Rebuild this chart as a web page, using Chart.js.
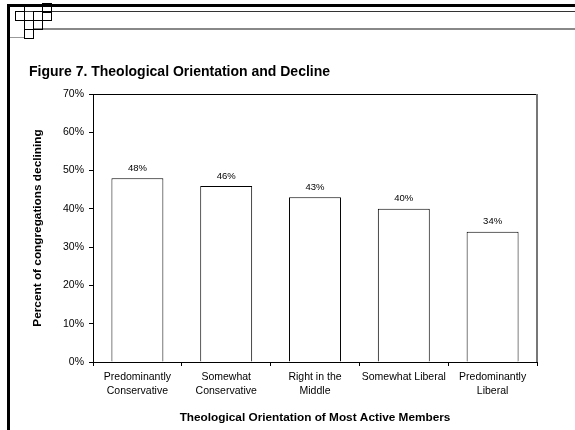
<!DOCTYPE html>
<html>
<head>
<meta charset="utf-8">
<script src="https://cdn.jsdelivr.net/npm/chart.js"></script>
<style>
  body { margin: 0; background: #fff; }
  .chart-wrap { position: relative; width: 575px; height: 430px; }
</style>
</head>
<body>
<div class="chart-wrap"><canvas id="declineChart"></canvas></div>
<script>
// Chart data
const categories = [
  ["Predominantly", "Conservative"],
  ["Somewhat", "Conservative"],
  ["Right in the", "Middle"],
  "Somewhat Liberal",
  ["Predominantly", "Liberal"],
];
const declining = [48, 46, 43, 40, 34]; // percent of congregations declining
const yMax = 70;
const yStep = 10;

const figureTitle = "Figure 7. Theological Orientation and Decline";
const yTitle = "Percent of congregations declining";
const xTitle = "Theological Orientation of Most Active Members";

const FONT = "'Liberation Sans', Arial, sans-serif";

// page frame, title, plot border and value labels
const slidePlugin = {
  id: "slide",
  beforeDraw(chart) {
    const ctx = chart.ctx;
    ctx.save();
    ctx.fillStyle = "#fff";
    ctx.fillRect(0, 0, chart.width, chart.height);

    // top rules
    ctx.fillStyle = "#000";
    ctx.fillRect(7, 4, chart.width - 7, 3);
    ctx.fillStyle = "#333";
    ctx.fillRect(15, 11, chart.width - 15, 1);
    ctx.fillStyle = "#888";
    ctx.fillRect(33, 28, chart.width - 33, 2);
    // left rule
    ctx.fillStyle = "#000";
    ctx.fillRect(7, 4, 3, chart.height - 4);

    // little squares
    ctx.strokeStyle = "#000";
    ctx.lineWidth = 1;
    const squares = [[15, 11], [33, 11], [42, 3], [42, 11], [33, 20], [24, 20], [24, 29]];
    squares.forEach(([x, y]) => ctx.strokeRect(x + 0.5, y + 0.5, 9, 9));
    ctx.beginPath();
    ctx.moveTo(24.5, 4);
    ctx.lineTo(24.5, 38);
    ctx.stroke();
    ctx.strokeStyle = "#999";
    ctx.beginPath();
    ctx.moveTo(10, 37.5);
    ctx.lineTo(24, 37.5);
    ctx.stroke();

    // figure title
    ctx.fillStyle = "#000";
    ctx.font = "bold 14px " + FONT;
    ctx.textAlign = "left";
    ctx.textBaseline = "alphabetic";
    ctx.fillText(figureTitle, 29, 76);
    ctx.restore();
  },
  afterDatasetsDraw(chart) {
    const ctx = chart.ctx;
    const meta = chart.getDatasetMeta(0);
    ctx.save();
    ctx.fillStyle = "#000";
    ctx.font = "9.5px " + FONT;
    ctx.textAlign = "center";
    ctx.textBaseline = "middle";
    meta.data.forEach((bar, i) => {
      ctx.fillText(declining[i] + "%", bar.x, bar.y - 10);
    });
    ctx.restore();
  },
  afterDraw(chart) {
    const { left, right, top, bottom } = chart.chartArea;
    const ctx = chart.ctx;
    ctx.save();
    ctx.lineWidth = 1;
    ctx.strokeStyle = "#000";
    ctx.beginPath();
    ctx.moveTo(left, top + 0.5);
    ctx.lineTo(right, top + 0.5);
    ctx.stroke();
    ctx.strokeStyle = "#777";
    ctx.lineWidth = 2;
    ctx.beginPath();
    ctx.moveTo(right, top);
    ctx.lineTo(right, bottom);
    ctx.stroke();
    ctx.restore();
  },
};

const ctx = document.getElementById("declineChart");

new Chart(ctx, {
  type: "bar",
  data: {
    labels: categories,
    datasets: [
      {
        data: declining,
        backgroundColor: "#fff",
        borderColor: "#000",
        borderWidth: 1,
        barPercentage: 0.585,
        categoryPercentage: 1,
      },
    ],
  },
  options: {
    responsive: true,
    maintainAspectRatio: false,
    animation: false,
    layout: {
      padding: { top: 94, right: 38, bottom: 0, left: 0 },
    },
    plugins: {
      legend: { display: false },
      title: { display: false },
      tooltip: { enabled: false },
    },
    scales: {
      x: {
        afterFit: (scale) => {
          scale.height = 68;
        },
        grid: {
          offset: true,
          drawOnChartArea: false,
          drawTicks: true,
          tickLength: 4,
          color: "#000",
        },
        border: { color: "#000", width: 1 },
        ticks: {
          color: "#000",
          padding: 5,
          maxRotation: 0,
          autoSkip: false,
          font: { family: FONT, size: 10.5, lineHeight: 1.25 },
        },
        title: {
          display: true,
          text: xTitle,
          color: "#000",
          font: { family: FONT, size: 11.8, weight: "bold" },
          padding: { top: 0, bottom: 5 },
        },
      },
      y: {
        min: 0,
        max: yMax,
        afterFit: (scale) => {
          scale.width = 93;
        },
        grid: {
          drawOnChartArea: false,
          drawTicks: true,
          tickLength: 4,
          color: "#000",
        },
        border: { color: "#000", width: 1 },
        ticks: {
          stepSize: yStep,
          color: "#000",
          padding: 5,
          font: { family: FONT, size: 10.5 },
          callback: (value) => value + "%",
        },
        title: {
          display: true,
          text: yTitle,
          color: "#000",
          font: { family: FONT, size: 11.8, weight: "bold" },
          padding: { top: 31, bottom: 0 },
        },
      },
    },
  },
  plugins: [slidePlugin],
});
</script>
</body>
</html>
